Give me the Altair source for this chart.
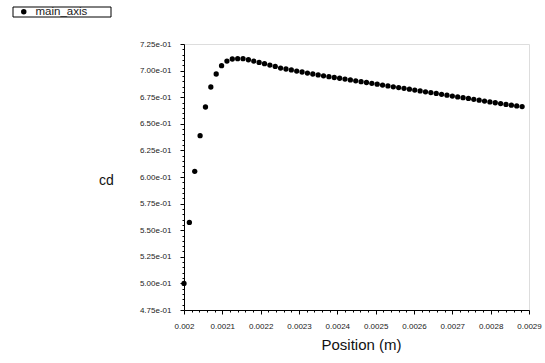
import altair as alt
import pandas as pd
import numpy as np

positions = [0.002, 0.002014, 0.002028, 0.002042, 0.002056, 0.00207, 0.002084, 0.002098,
             0.002112, 0.002126, 0.00214, 0.002154, 0.002168, 0.002182, 0.002196, 0.00221,
             0.002224, 0.002238, 0.002252, 0.002266, 0.00228, 0.002294, 0.002308, 0.002322,
             0.002336, 0.00235, 0.002364, 0.002378, 0.002392, 0.002406, 0.00242, 0.002434,
             0.002448, 0.002462, 0.002476, 0.00249, 0.002504, 0.002518, 0.002532, 0.002546,
             0.00256, 0.002574, 0.002588, 0.002602, 0.002616, 0.00263, 0.002644, 0.002658,
             0.002672, 0.002686, 0.0027, 0.002714, 0.002728, 0.002742, 0.002756, 0.00277,
             0.002784, 0.002798, 0.002812, 0.002826, 0.00284, 0.002854, 0.002868, 0.002882]

cd = [0.5000, 0.5573, 0.6053, 0.6388, 0.6658, 0.6846, 0.6968, 0.7046,
      0.7090, 0.7109, 0.7112, 0.7112, 0.7102, 0.7090, 0.7077, 0.7065,
      0.7052, 0.7039, 0.7024, 0.7015, 0.7006, 0.6996, 0.6987, 0.6977,
      0.6968, 0.6959, 0.6951, 0.6943, 0.6935, 0.6928, 0.6920, 0.6912,
      0.6904, 0.6896, 0.6888, 0.6880, 0.6872, 0.6864, 0.6856, 0.6848,
      0.6840, 0.6833, 0.6825, 0.6817, 0.6809, 0.6801, 0.6793, 0.6785,
      0.6777, 0.6769, 0.6761, 0.6753, 0.6746, 0.6738, 0.6730, 0.6722,
      0.6714, 0.6706, 0.6698, 0.6690, 0.6682, 0.6675, 0.6668, 0.6662]

series_name = "main_axis"

x_major = [0.002, 0.0021, 0.0022, 0.0023, 0.0024, 0.0025, 0.0026, 0.0027, 0.0028, 0.0029]
y_major = [0.475, 0.5, 0.525, 0.55, 0.575, 0.6, 0.625, 0.65, 0.675, 0.7, 0.725]

# minor tick positions (5 subdivisions between major ticks)
x_ticks = [round(v, 7) for v in np.arange(0, 46) * 0.00002 + 0.002]
y_ticks = [round(v, 4) for v in np.arange(0, 51) * 0.005 + 0.475]

df = pd.DataFrame({"Position": positions, "cd": cd, "series": [series_name] * len(cd)})

font = "Liberation Sans"
x_major_test = "abs(datum.value*10000 - round(datum.value*10000)) < 1e-6"
y_major_test = "abs(datum.value*40 - round(datum.value*40)) < 1e-6"

points = alt.Chart(df).mark_point(filled=True, opacity=1, size=28).encode(
    x=alt.X("Position:Q",
            scale=alt.Scale(domain=[x_major[0], x_major[-1]], nice=False, zero=False),
            axis=alt.Axis(values=x_ticks, title="Position (m)", grid=False,
                          labelExpr=f"{x_major_test} ? format(datum.value, '.2~r') : ''",
                          tickSize={"condition": {"test": x_major_test, "value": 4}, "value": 2},
                          domainColor="black", tickColor="black", labelColor="#222",
                          labelFont=font, labelFontSize=8, labelPadding=8, labelFlush=False,
                          titleFont=font, titleFontSize=15, titleFontWeight="normal",
                          titleColor="#111", titlePadding=7, titleX=177, labelOverlap=False)),
    y=alt.Y("cd:Q",
            scale=alt.Scale(domain=[y_major[0], y_major[-1]], nice=False, zero=False),
            axis=alt.Axis(values=y_ticks, title="cd", grid=False,
                          labelExpr=f"{y_major_test} ? replace(format(datum.value, '.2e'), 'e-1', 'e-01') : ''",
                          tickSize={"condition": {"test": y_major_test, "value": 4}, "value": 2},
                          domainColor="black", tickColor="black", labelColor="#222",
                          labelFont=font, labelFontSize=8, labelPadding=9, labelFlush=False,
                          titleFont=font, titleFontSize=14, titleFontWeight="normal",
                          titleColor="#111", titleAngle=0, titleAlign="center",
                          titleBaseline="middle", titleX=-78, titleY=136, labelOverlap=False)),
    color=alt.Color("series:N", scale=alt.Scale(range=["black"]),
                    legend=alt.Legend(title=None, orient="none", legendX=-171, legendY=-38,
                                      padding=0, symbolType="circle",
                                      symbolSize=30, symbolOffset=5, labelOffset=6,
                                      labelFont=font, labelFontSize=11.5, labelColor="#222")),
)

legend_box = alt.Chart(alt.Data(values=[{"box": 1}])).mark_rect(
    fill="white", fillOpacity=0, stroke="black", strokeWidth=1
).encode(
    x=alt.value(-171), x2=alt.value(-73), y=alt.value(-37), y2=alt.value(-27)
)

chart = alt.layer(legend_box, points).properties(
    width=345, height=266,
    padding={"left": 184, "top": 44, "right": 16, "bottom": 53},
    autosize=alt.AutoSizeParams(type="none"),
).configure_view(stroke=None).configure(background="white")

chart.save("out.html", embed_options={"renderer": "svg", "actions": False})
